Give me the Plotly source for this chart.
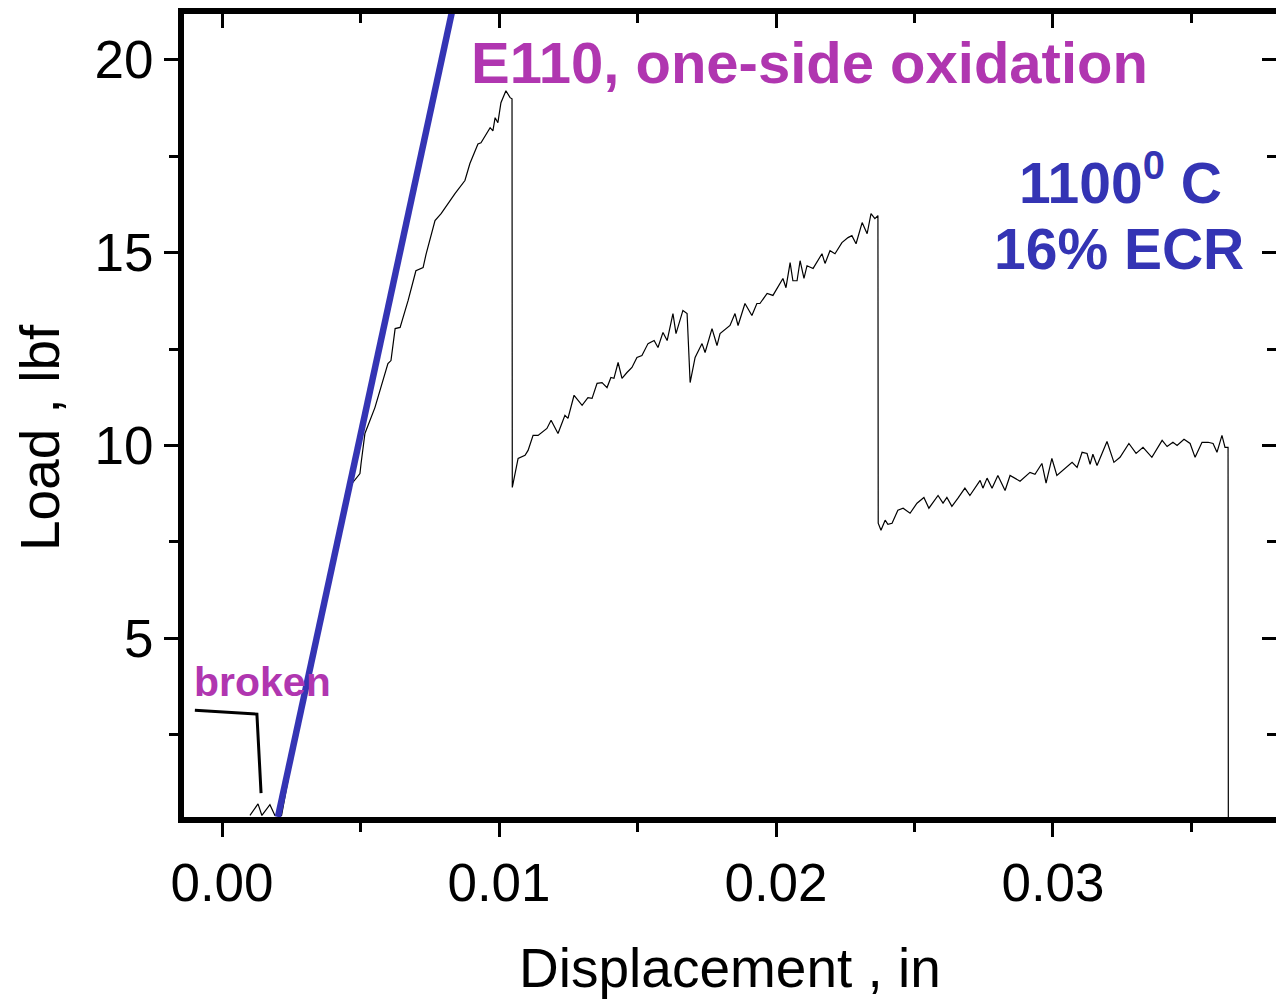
import plotly.graph_objects as go

# ---- data (displacement in inches, load in lbf) ----
disp = [
    0.00101, 0.00130, 0.00144, 0.00173, 0.00191, 0.00215,
    0.00281, 0.00372, 0.00441, 0.00468,
    0.00498, 0.00502, 0.00516, 0.00552, 0.00581, 0.00599, 0.00610, 0.00625,
    0.00643, 0.00672, 0.00700, 0.00726, 0.00737, 0.00769, 0.00791, 0.00841,
    0.00877, 0.00895, 0.00924, 0.00935, 0.00968, 0.00978, 0.00986, 0.00996,
    0.01007, 0.01025, 0.01040, 0.01047, 0.01048,
    0.01058, 0.01069, 0.01094, 0.01105, 0.01123, 0.01141, 0.01173, 0.01188,
    0.01213, 0.01238, 0.01249, 0.01271, 0.01300, 0.01321, 0.01336, 0.01354,
    0.01372, 0.01390, 0.01404, 0.01415, 0.01430, 0.01444, 0.01462, 0.01480,
    0.01498, 0.01516, 0.01538, 0.01560, 0.01574, 0.01592, 0.01607, 0.01628,
    0.01639, 0.01664, 0.01679, 0.01690, 0.01708, 0.01733, 0.01744, 0.01769,
    0.01787, 0.01798, 0.01834, 0.01852, 0.01863, 0.01888, 0.01913, 0.01931,
    0.01942, 0.01968, 0.01989, 0.02025, 0.02036, 0.02051, 0.02061, 0.02076,
    0.02087, 0.02101, 0.02112, 0.02134, 0.02166, 0.02177, 0.02195, 0.02213,
    0.02238, 0.02260, 0.02274, 0.02289, 0.02311, 0.02329, 0.02343, 0.02357,
    0.02368, 0.02369,
    0.02379, 0.02394, 0.02404, 0.02419, 0.02440, 0.02459, 0.02484, 0.02509,
    0.02534, 0.02552, 0.02585, 0.02603, 0.02617, 0.02635, 0.02657, 0.02682,
    0.02700, 0.02737, 0.02747, 0.02762, 0.02780, 0.02801, 0.02827, 0.02845,
    0.02881, 0.02917, 0.02935, 0.02960, 0.02975, 0.02996, 0.03014, 0.03036,
    0.03069, 0.03087, 0.03105, 0.03123, 0.03134, 0.03144, 0.03159, 0.03195,
    0.03220, 0.03242, 0.03274, 0.03300, 0.03325, 0.03357, 0.03394, 0.03412,
    0.03433, 0.03448, 0.03473, 0.03495, 0.03513, 0.03538, 0.03560, 0.03578,
    0.03592, 0.03610, 0.03621, 0.03632, 0.03633,
]
load = [
    0.40, 0.70, 0.40, 0.68, 0.40, 0.40,
    3.00, 6.00, 8.30, 9.00,
    9.27, 9.53, 10.31, 10.98, 11.68, 12.12, 12.20, 13.03,
    13.06, 13.76, 14.53, 14.61, 14.97, 15.83, 16.01, 16.53,
    16.87, 17.31, 17.82, 17.85, 18.24, 18.16, 18.50, 18.37,
    18.89, 19.20, 19.02, 18.99, 8.91,
    9.27, 9.66, 9.74, 9.87, 10.26, 10.26, 10.44, 10.65,
    10.31, 10.78, 10.70, 11.30, 11.04, 11.24, 11.22, 11.61,
    11.63, 11.50, 11.76, 11.74, 12.15, 11.74, 11.89, 12.02,
    12.28, 12.33, 12.64, 12.72, 12.54, 12.93, 12.72, 13.42,
    12.90, 13.50, 13.42, 11.63, 12.28, 12.64, 12.41, 13.03,
    12.59, 12.90, 13.11, 13.42, 13.11, 13.68, 13.37, 13.68,
    13.68, 13.94, 13.89, 14.33, 14.09, 14.74, 14.27, 14.27,
    14.79, 14.33, 14.66, 14.59, 14.97, 14.72, 15.05, 14.97,
    15.26, 15.39, 15.44, 15.23, 15.78, 15.49, 16.01, 15.88,
    15.96, 7.98,
    7.80, 8.06, 7.95, 7.98, 8.32, 8.37, 8.24, 8.50,
    8.65, 8.37, 8.70, 8.50, 8.65, 8.42, 8.63, 8.89,
    8.70, 9.09, 8.89, 9.15, 8.89, 9.22, 8.83, 9.22,
    9.07, 9.30, 9.25, 9.53, 9.02, 9.66, 9.22, 9.35,
    9.56, 9.43, 9.82, 9.79, 9.51, 9.77, 9.48, 10.10,
    9.56, 9.69, 10.05, 9.79, 9.95, 9.69, 10.13, 9.97,
    10.08, 10.00, 10.16, 10.05, 9.69, 10.08, 10.08, 10.05,
    9.82, 10.26, 9.95, 9.95, 0.30,
]

# elastic (initial slope) reference line
slope_disp = [0.00202, 0.00830]
slope_load = [0.36, 21.24]

# leader line for the "broken" label
broken_x = [-0.00098, 0.00126, 0.00141]
broken_y = [3.13, 3.03, 0.98]

x_major = [0.00, 0.01, 0.02, 0.03]
x_major_text = ["0.00", "0.01", "0.02", "0.03"]
x_minor = [0.005, 0.015, 0.025, 0.035]
y_major = [5, 10, 15, 20]
y_minor = [2.5, 7.5, 12.5, 17.5]

x_range = [-0.001372, 0.038051]
y_range = [0.36, 21.19]

FONT = "Liberation Sans, Arial, Helvetica, sans-serif"
BLUE = "#3434B4"
MAGENTA = "#B036B0"

fig = go.Figure()
fig.add_trace(go.Scatter(x=disp, y=load, mode="lines",
                         line=dict(color="black", width=1.2),
                         showlegend=False, hoverinfo="skip"))
fig.add_trace(go.Scatter(x=slope_disp, y=slope_load, mode="lines",
                         line=dict(color=BLUE, width=6.5),
                         showlegend=False, hoverinfo="skip"))
fig.add_trace(go.Scatter(x=broken_x, y=broken_y, mode="lines",
                         line=dict(color="black", width=3),
                         showlegend=False, hoverinfo="skip"))
# invisible trace to activate overlay axes
fig.add_trace(go.Scatter(x=[None], y=[None], xaxis="x2", yaxis="y2",
                         showlegend=False, hoverinfo="skip"))

fig.update_layout(
    width=1276, height=1002,
    margin=dict(l=184, r=0, t=14, b=185),
    paper_bgcolor="white", plot_bgcolor="white",
    font=dict(family=FONT, color="black"),
    xaxis=dict(
        range=x_range, showgrid=False, zeroline=False,
        showline=True, linewidth=6, linecolor="black",
        ticks="outside", ticklen=14, tickwidth=3, tickcolor="black",
        tickvals=x_major, ticktext=x_major_text,
        tickfont=dict(size=53, family=FONT),
        minor=dict(tickvals=x_minor, ticks="outside", ticklen=9,
                   tickwidth=3, tickcolor="black", showgrid=False),
        title=dict(text="Displacement , in", font=dict(size=55, family=FONT),
                   standoff=40),
    ),
    yaxis=dict(
        range=y_range, showgrid=False, zeroline=False,
        showline=True, linewidth=6, linecolor="black",
        ticks="outside", ticklen=14, tickwidth=3, tickcolor="black",
        tickvals=y_major, ticktext=[str(v) for v in y_major],
        tickfont=dict(size=53, family=FONT),
        minor=dict(tickvals=y_minor, ticks="outside", ticklen=9,
                   tickwidth=3, tickcolor="black", showgrid=False),
    ),
    xaxis2=dict(
        overlaying="x", side="top", matches="x", range=x_range,
        showgrid=False, zeroline=False, showticklabels=False,
        showline=True, linewidth=6, linecolor="black",
        ticks="inside", ticklen=14, tickwidth=3, tickcolor="black",
        tickvals=x_major,
        minor=dict(tickvals=x_minor, ticks="inside", ticklen=9,
                   tickwidth=3, tickcolor="black", showgrid=False),
    ),
    yaxis2=dict(
        overlaying="y", side="right", range=y_range,
        showgrid=False, zeroline=False, showticklabels=False,
        showline=False,
        ticks="inside", ticklen=14, tickwidth=3, tickcolor="black",
        tickvals=y_major,
        minor=dict(tickvals=y_minor, ticks="inside", ticklen=9,
                   tickwidth=3, tickcolor="black", showgrid=False),
    ),
    annotations=[
        # y-axis title (placed as annotation to match the original position)
        dict(x=-0.132, y=0.473, xref="paper", yref="paper",
             text="Load , lbf", showarrow=False, textangle=-90,
             font=dict(size=55, color="black", family=FONT),
             xanchor="center", yanchor="middle"),
        dict(x=0.0212, y=19.92, xref="x", yref="y",
             text="<b>E110, one-side oxidation</b>", showarrow=False,
             font=dict(size=58, color=MAGENTA, family=FONT),
             xanchor="center", yanchor="middle"),
        dict(x=0.03242, y=16.9, xref="x", yref="y",
             text="<b>1100<sup>0</sup> C</b>", showarrow=False,
             font=dict(size=57, color=BLUE, family=FONT),
             xanchor="center", yanchor="middle"),
        dict(x=0.03238, y=15.1, xref="x", yref="y",
             text="<b>16% ECR</b>", showarrow=False,
             font=dict(size=57, color=BLUE, family=FONT),
             xanchor="center", yanchor="middle"),
        dict(x=-0.00108, y=3.85, xref="x", yref="y",
             text="<b>broken</b>", showarrow=False,
             font=dict(size=41, color=MAGENTA, family=FONT),
             xanchor="left", yanchor="middle"),
    ],
)

fig.write_html("out.html")
